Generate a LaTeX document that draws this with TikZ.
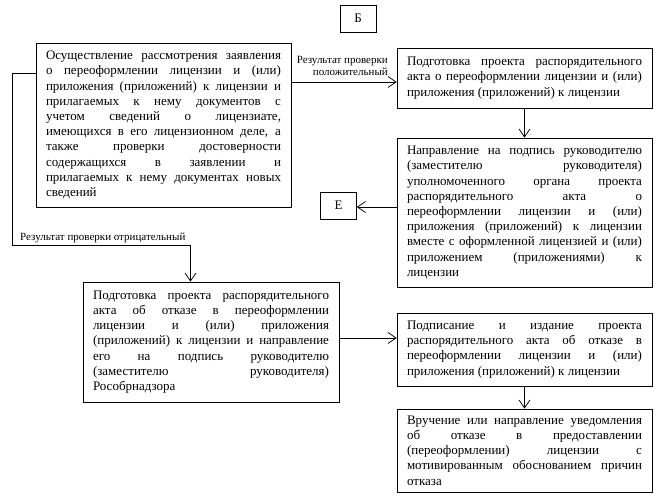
\documentclass[tikz,border=0pt]{standalone}
\usepackage{fontspec}
\setmainfont{Liberation Serif}
\usetikzlibrary{arrows.meta}
\newcommand\nohyph{\hyphenpenalty=10000\exhyphenpenalty=10000\relax}
\begin{document}
\begin{tikzpicture}[x=1pt,y=-1pt,
  box/.style={draw, line width=0.75pt, text width=235pt, inner xsep=10pt, inner ysep=0pt,
    align=justify, font=\fontsize{13}{15.2}\selectfont\nohyph},
  letterbox/.style={draw, line width=0.75pt, minimum width=36pt, minimum height=27pt, inner sep=0pt,
    font=\fontsize{13}{15.2}\selectfont},
  lbl/.style={inner sep=0pt, font=\fontsize{11}{12}\selectfont},
  arr/.style={line width=0.75pt, -{Straight Barb[length=8pt, width=11pt]}}]
\useasboundingbox (0,0) rectangle (667,503);
\node[letterbox] (bb) at (358,18.5) {Б};
\node[box, minimum height=164pt] (A) at (163.5,125) {Осуществление рассмотрения заявления\linebreak
о переоформлении лицензии и (или)\linebreak
приложения (приложений) к лицензии и\linebreak
прилагаемых к нему документов с\linebreak
учетом сведений о лицензиате,\linebreak
имеющихся в его лицензионном деле, а\linebreak
также проверки достоверности\linebreak
содержащихся в заявлении и\linebreak
прилагаемых к нему документах новых\linebreak
сведений};
\node[box, minimum height=60pt] (B) at (524.5,78) {Подготовка проекта распорядительного\linebreak
акта о переоформлении лицензии и (или)\linebreak
приложения (приложений) к лицензии};
\node[box, minimum height=149pt] (C) at (524.5,212.5) {Направление на подпись руководителю\linebreak
(заместителю руководителя)\linebreak
уполномоченного органа проекта\linebreak
распорядительного акта о\linebreak
переоформлении лицензии и (или)\linebreak
приложения (приложений) к лицензии\linebreak
вместе с оформленной лицензией и (или)\linebreak
приложением (приложениями) к\linebreak
лицензии};
\node[letterbox] (E) at (338.5,205.5) {Е};
\node[box, text width=236pt, minimum height=120pt] (D) at (211,342) {Подготовка проекта распорядительного\linebreak
акта об отказе в переоформлении\linebreak
лицензии и (или) приложения\linebreak
(приложений) к лицензии и направление\linebreak
его на подпись руководителю\linebreak
(заместителю руководителя)\linebreak
Рособрнадзора};
\node[box, minimum height=73pt] (F) at (524.5,349.5) {Подписание и издание проекта\linebreak
распорядительного акта об отказе в\linebreak
переоформлении лицензии и (или)\linebreak
приложения (приложений) к лицензии};
\node[box, minimum height=83pt] (G) at (524.5,450.5) {Вручение или направление уведомления\linebreak
об отказе в предоставлении\linebreak
(переоформлении) лицензии с\linebreak
мотивированным обоснованием причин\linebreak
отказа};
\node[lbl, align=right, anchor=east] (lpos) at (388,66) {Результат проверки\\положительный};
\node[lbl, anchor=west] (lneg) at (20,238) {Результат проверки отрицательный};
\coordinate (y82) at (0,82);
\coordinate (y207) at (0,207);
\coordinate (y338) at (0,338);
\coordinate (c1) at (12,73);
\coordinate (c2) at (12,245.5);
\coordinate (c3) at (190.5,245.5);
\draw[arr] (A.east |- y82) -- (B.west |- y82);
\draw[arr] (B.south) -- (C.north);
\draw[arr] (C.west |- y207) -- (E.east |- y207);
\draw[arr] (D.east |- y338) -- (F.west |- y338);
\draw[arr] (F.south) -- (G.north);
\draw[arr] (A.west |- c1) -- (c1) -- (c2) -- (c3) -- (c3 |- D.north);
\end{tikzpicture}
\end{document}
